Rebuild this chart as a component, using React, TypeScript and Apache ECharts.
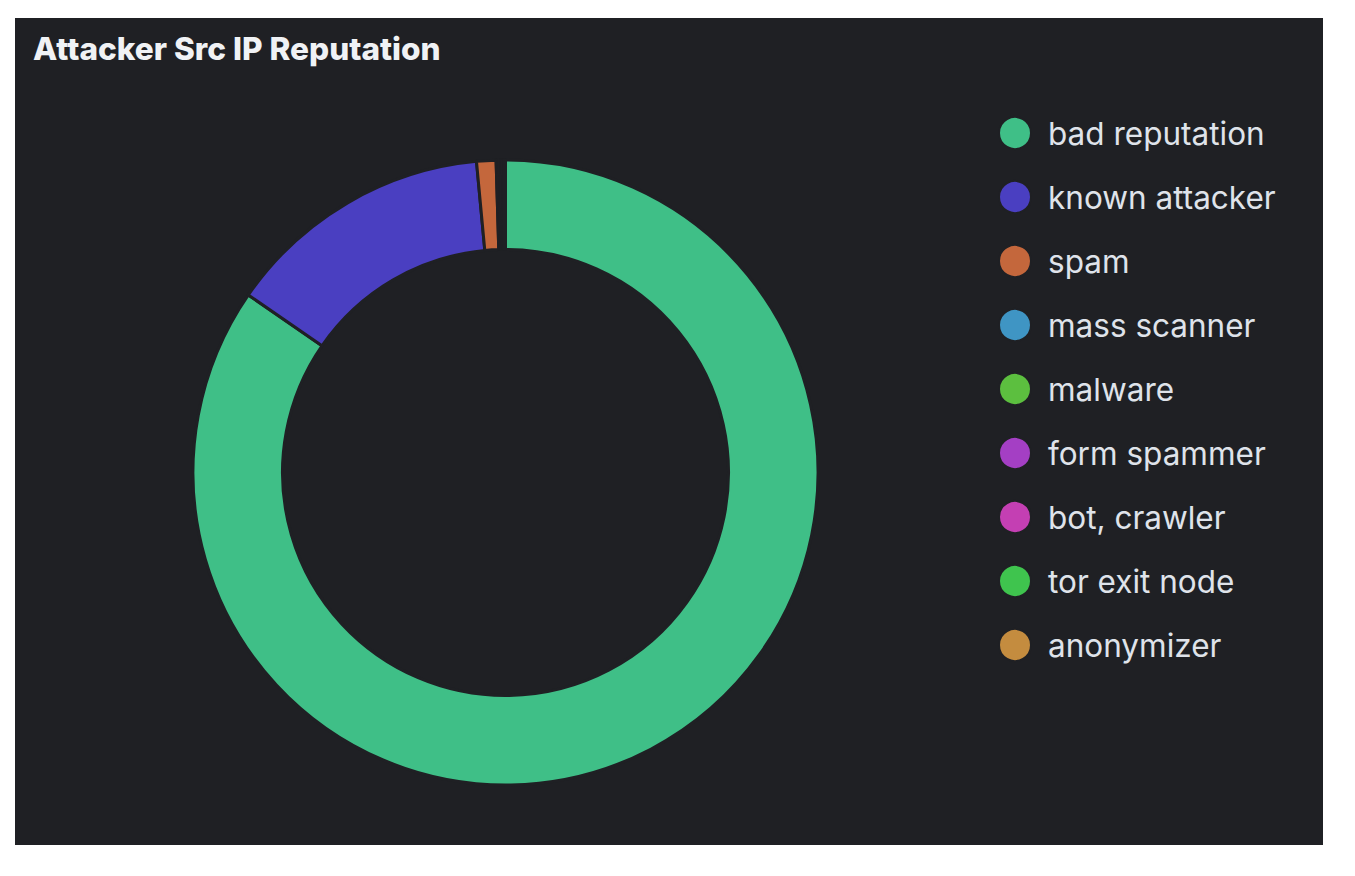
import React, { useEffect, useRef } from "react";
import * as echarts from "echarts";

const titleText = "Attacker Src IP Reputation";
const categories = [
  "bad reputation",
  "known attacker",
  "spam",
  "mass scanner",
  "malware",
  "form spammer",
  "bot, crawler",
  "tor exit node",
  "anonymizer",
];
const values = [84.6, 13.9, 1.0, 0.08, 0.08, 0.08, 0.08, 0.08, 0.08];
const colors = [
  "#3fbf87",
  "#4a3fc1",
  "#c4673c",
  "#3f95c4",
  "#5cbf3f",
  "#a43fc4",
  "#c43fb3",
  "#3fc44e",
  "#c48c3f",
];

const BG = "#1f2024";

export default function App() {
  const ref = useRef<HTMLDivElement>(null);
  useEffect(() => {
    if (!ref.current) return;
    const chart = echarts.init(ref.current, undefined, { renderer: "svg" });
    chart.setOption({
      animation: false,
      backgroundColor: BG,
      color: colors,
      title: {
        text: titleText,
        left: 13,
        top: 9,
        textStyle: {
          color: "#f0f2f5",
          fontFamily: "Inter",
          fontWeight: 800,
          fontSize: 31.6,
        },
      },
      legend: {
        orient: "vertical",
        left: 978,
        top: 93,
        icon: "circle",
        itemWidth: 32,
        itemHeight: 32,
        itemGap: 30,
        data: categories,
        textStyle: {
          color: "#dfe3ea",
          fontFamily: "Inter",
          fontSize: 31.5,
          lineHeight: 32,
          padding: [0, 0, 0, 12],
        },
      },
      series: [
        {
          type: "pie",
          center: [490.5, 454.5],
          radius: [223, 312.5],
          startAngle: 90,
          clockwise: true,
          label: { show: false },
          labelLine: { show: false },
          itemStyle: { borderColor: BG, borderWidth: 3 },
          emphasis: { disabled: true },
          data: categories.map((name, i) => ({ name, value: values[i] })),
        },
      ],
    });
    return () => chart.dispose();
  }, []);
  return (
    <div style={{ position: "fixed", left: 0, top: 0, width: 1355, height: 876, background: "#ffffff" }}>
      <div ref={ref} style={{ position: "absolute", left: 15, top: 18, width: 1308, height: 827 }} />
    </div>
  );
}
